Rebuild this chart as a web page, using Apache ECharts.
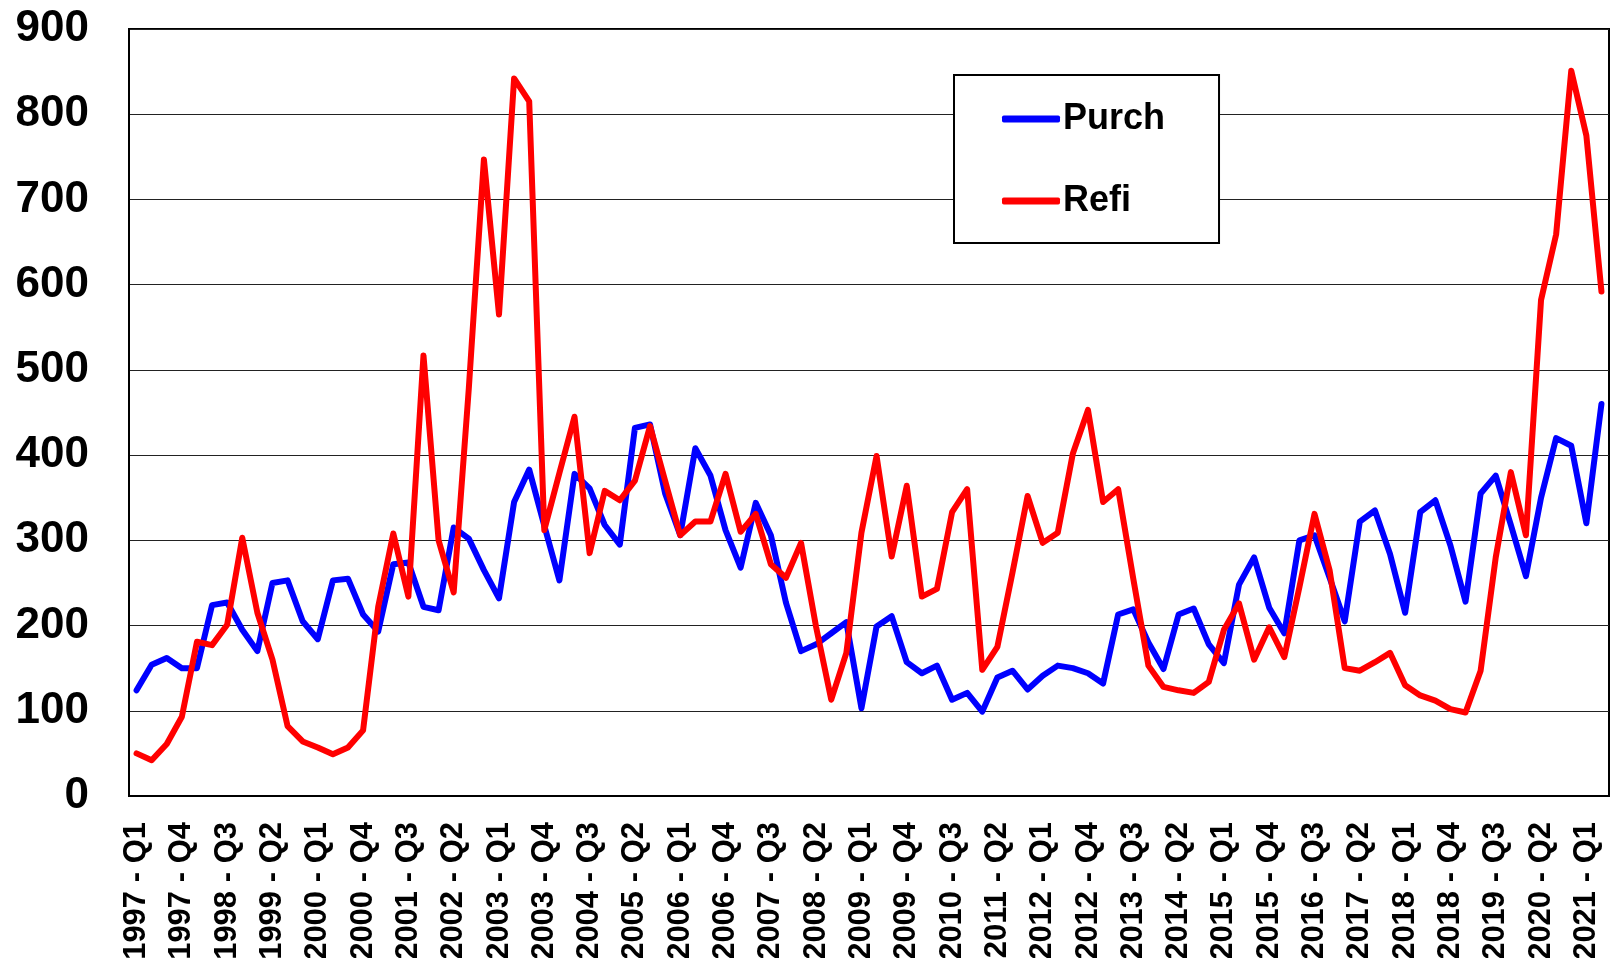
<!DOCTYPE html>
<html>
<head>
<meta charset="utf-8">
<script src="https://cdn.jsdelivr.net/npm/echarts@6/dist/echarts.min.js"></script>
<style>
  html, body { margin: 0; padding: 0; background: #fff; }
  #chart { width: 1614px; height: 958px; }
</style>
</head>
<body>
<div id="chart"></div>
<script>
// quarters 1997 Q1 .. 2021 Q2
const startYear = 1997
const quarterCount = 98
const categories = []
for (let i = 0; i < quarterCount; i++) {
  categories.push((startYear + Math.floor(i / 4)) + ' - Q' + (i % 4 + 1))
}

const purch = [
  124, 154, 162, 150, 150, 224, 227, 195, 170, 250,
  253, 205, 184, 253, 255, 213, 193, 272, 274, 222,
  218, 315, 302, 265, 232, 345, 383, 317, 253, 378,
  361, 318, 295, 432, 436, 355, 306, 408, 376, 312,
  268, 344, 306, 227, 170, 178, 191, 204, 103, 199,
  211, 157, 144, 153, 113, 121, 99, 139, 147, 125,
  141, 153, 150, 144, 132, 213, 219, 180, 149, 213,
  220, 178, 156, 248, 280, 221, 191, 300, 306, 256,
  205, 322, 335, 284, 215, 333, 347, 294, 228, 355,
  376, 318, 258, 350, 420, 411, 320, 460
]

const refi = [
  50, 42, 61, 93, 181, 177, 201, 303, 215, 160,
  82, 64, 57, 49, 57, 77, 222, 308, 234, 517,
  300, 239, 478, 747, 565, 842, 815, 312, 379, 445,
  285, 358, 347, 370, 434, 370, 306, 322, 322, 378,
  310, 331, 272, 256, 297, 198, 113, 168, 309, 399,
  281, 364, 234, 243, 333, 360, 148, 175, 262, 352,
  297, 309, 402, 453, 345, 360, 255, 153, 128, 124,
  121, 134, 195, 226, 160, 198, 163, 245, 331, 265,
  150, 147, 157, 168, 130, 118, 112, 102, 98, 147,
  280, 380, 306, 582, 659, 851, 775, 592
]

const chart = echarts.init(document.getElementById('chart'))
const font = '"Liberation Sans", Arial, sans-serif'

chart.setOption({
  animation: false,
  textStyle: { fontFamily: font },
  grid: {
    left: 129,
    right: 5,
    top: 29,
    bottom: 162,
    outerBoundsMode: 'none',
    show: true,
    borderColor: '#000',
    borderWidth: 2
  },
  legend: {
    data: ['Purch', 'Refi'],
    orient: 'vertical',
    left: 954,
    top: 75,
    padding: [26, 54, 24, 48],
    itemGap: 46,
    itemWidth: 58,
    itemHeight: 7,
    icon: 'roundRect',
    backgroundColor: '#fff',
    borderColor: '#000',
    borderWidth: 2,
    borderRadius: 0,
    textStyle: {
      fontFamily: font,
      fontSize: 36,
      fontWeight: 'bold',
      color: '#000',
      padding: [0, 0, 0, -2]
    }
  },
  xAxis: {
    type: 'category',
    data: categories,
    boundaryGap: true,
    axisLine: { lineStyle: { color: '#000', width: 2 } },
    axisTick: { show: false },
    axisLabel: {
      interval: 2,
      rotate: 90,
      margin: 26,
      color: '#000',
      fontFamily: font,
      fontSize: 31,
      fontWeight: 'bold'
    },
    splitLine: { show: false }
  },
  yAxis: {
    type: 'value',
    min: 0,
    max: 900,
    interval: 100,
    axisLine: { show: true, lineStyle: { color: '#000', width: 2 } },
    axisTick: { show: false },
    axisLabel: {
      margin: 40,
      color: '#000',
      fontFamily: font,
      fontSize: 44,
      fontWeight: 'bold'
    },
    splitLine: { lineStyle: { color: '#222', width: 1 } }
  },
  series: [
    {
      name: 'Purch',
      type: 'line',
      data: purch,
      showSymbol: false,
      color: '#0000ff',
      lineStyle: { width: 6, color: '#0000ff', cap: 'round', join: 'round' }
    },
    {
      name: 'Refi',
      type: 'line',
      data: refi,
      showSymbol: false,
      color: '#ff0000',
      lineStyle: { width: 6, color: '#ff0000', cap: 'round', join: 'round' }
    }
  ]
})
</script>
</body>
</html>
